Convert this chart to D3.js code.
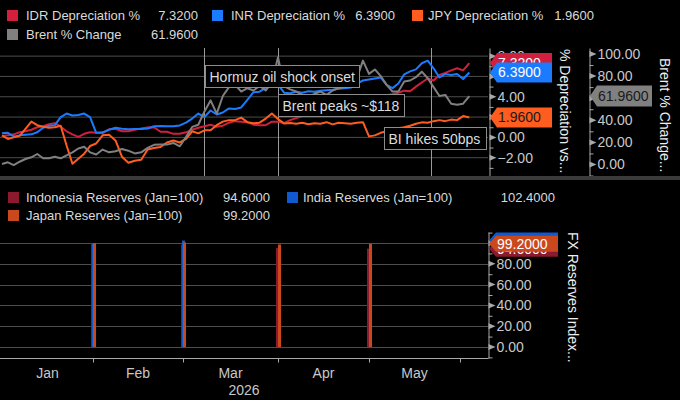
<!DOCTYPE html>
<html>
<head>
<meta charset="utf-8">
<script src="https://cdnjs.cloudflare.com/ajax/libs/d3/7.8.5/d3.min.js"></script>
<style>
  html, body { margin: 0; padding: 0; background: #000; }
  svg { display: block; font-family: "Liberation Sans", Arial, sans-serif; }
</style>
</head>
<body>
<div id="chart"></div>
<script>
// ---- data ----
const startDate = new Date(2026, 0, 1);
const dates = d3.range(78).map(i => d3.timeDay.offset(startDate, i * 2));

const idrDep = [0.15, 0.2, 0.3, 0.5, 0.6, 0.75, 1.0, 1.1, 1.3, 1.4, 1.05, 0.6, 0.3, 0.05, 0.35, 0.5,
  0.45, 0.42, 0.8, 0.85, 0.6, 0.6, 0.75, 0.88, 0.98, 1.0, 0.55, 0.55, 0.35, 0.35, 0.5, 0.75,
  0.95, 1.1, 1.25, 1.05, 1.15, 1.45, 1.6, 1.55, 1.5, 1.25, 1.2, 1.2, 1.55, 1.55, 1.4, 1.7,
  1.9, 2.1, 2.3, 2.5, 2.7, 2.9, 3.0, 3.2, 3.35, 3.5, 3.6, 3.7, 3.85, 3.95, 4.05, 4.15,
  4.25, 4.4, 4.6, 4.55, 5.0, 5.4, 5.8, 5.6, 6.15, 6.35, 6.6, 6.8, 6.6, 7.32];
const inrDep = [0.4, 0.45, 0.1, 0.2, 0.25, 0.3, 0.5, 0.95, 1.15, 1.2, 2.0, 2.35, 2.15, 2.2, 2.35, 2.0,
  0.45, 0.5, 0.75, 0.95, 0.85, 0.8, 0.82, 0.83, 0.88, 1.1, 1.12, 1.1, 1.1, 1.18, 1.45, 1.85,
  2.35, 2.0, 2.65, 2.25, 2.45, 2.85, 2.8, 2.95, 3.7, 4.45, 4.5, 4.9, 5.4, 5.2, 4.4, 4.35,
  4.5, 4.4, 4.55, 4.5, 4.6, 4.65, 4.7, 4.8, 4.84, 4.9, 5.3, 5.6, 5.7, 5.8, 5.9, 5.16,
  4.85, 5.3, 6.2, 6.5, 6.7, 7.3, 7.55, 6.8, 5.9, 6.25, 6.15, 6.25, 5.75, 6.39];
const jpyDep = [0.2, -0.15, 0.0, 0.15, 0.85, 1.55, 1.2, 1.05, 0.95, 1.0, 1.15, -0.8, -2.6, -2.1, -1.6, -0.85,
  -0.6, 0.2, 0.25, -0.3, -1.9, -2.5, -2.3, -2.2, -1.2, -1.05, -0.95, -0.5, -0.3, -0.5, -0.15, 0.6,
  0.4, 0.7, 0.7, 1.2, 1.55, 1.7, 1.7, 1.95, 1.5, 1.4, 1.45, 1.85, 2.35, 1.8, 1.38, 1.42,
  1.35, 1.45, 1.3, 1.4, 1.35, 1.5, 1.28, 1.45, 1.4, 1.35, 1.45, 1.5, 0.1, 0.2, 0.45, 0.6,
  0.75, 0.9, 1.0, 1.15, 1.35, 1.48, 1.45, 1.6, 1.7, 1.6, 1.75, 1.7, 2.1, 1.96];
const brentChg = [0.5, 2, -0.5, 2.5, 5, 6.5, 9.5, 5.6, 5.6, 7, 5.6, 8.3, 11, 14.5, 16, 11,
  9, 13.5, 11, 12, 14, 12.5, 10, 11, 15, 17.8, 18.2, 18, 19.5, 16.5, 25, 34,
  36, 48, 58, 46, 62, 70, 72, 66, 69, 67, 71, 67, 74, 97, 71, 68,
  66, 63, 61, 64, 66, 63, 67, 69, 70, 74, 78, 94, 82, 86, 80, 72,
  66, 66, 75, 76, 79, 84, 78, 70, 62, 63, 55, 54, 55, 61.96];

const seriesNames = ["IDR Depreciation %", "INR Depreciation %", "JPY Depreciation %", "Brent % Change"];
const seriesColors = ["#d11f3d", "#1a7bff", "#ff5c1f", "#808080"];

const reserveDates = [new Date(2026, 0, 31), new Date(2026, 1, 28), new Date(2026, 2, 31), new Date(2026, 3, 30)];
const reserveNames = ["Indonesia Reserves (Jan=100)", "India Reserves (Jan=100)", "Japan Reserves (Jan=100)"];
const indonesiaRes = [100, 98.5, 95.1, 94.6];
const indiaRes = [100, 102.4, null, null];
const japanRes = [100, 100.6, 98.6, 99.2];
const reserveColors = ["#8c1a2e", "#1059cf", "#c9481d"];

const events = [
  { date: new Date(2026, 2, 8), label: "Hormuz oil shock onset" },
  { date: new Date(2026, 3, 1), label: "Brent peaks ~$118" },
  { date: new Date(2026, 4, 22), label: "BI hikes 50bps" }
];

const monthStarts = [0, 1, 2, 3, 4, 5].map(m => new Date(2026, m, 1));
const monthLabels = ["Jan", "Feb", "Mar", "Apr", "May"];
const depTicks = [-2, 0, 2, 4, 6, 8];
const brentTicks = [0, 20, 40, 60, 80, 100];
const resTicks = [0, 20, 40, 60, 80, 100];

// ---- layout ----
const W = 680, H = 400;
const svg = d3.select("#chart").append("svg").attr("width", W).attr("height", H);
svg.append("rect").attr("width", W).attr("height", H).attr("fill", "#000");

const x = d3.scaleTime()
  .domain([...monthStarts, new Date(2026, 5, 10)])
  .range([2, 93, 183, 278, 369, 460, 488]);

const yDep = d3.scaleLinear().domain([-3.8, 8.8]).range([176, 48]);
const yBrent = d3.scaleLinear().domain([-10.4, 105.4]).range([176, 48]);
const yRes = d3.scaleLinear().domain([-10.6, 110.6]).range([358, 232]);

const fmt2 = d3.format(".2f"), fmt4 = d3.format(".4f");
const last = arr => arr.filter(v => v != null).slice(-1)[0];

// ---- top legend ----
function legendItem(g, sx, tx, y, color, name, value, valRight) {
  g.append("rect").attr("x", sx).attr("y", y - 10).attr("width", 11).attr("height", 11).attr("fill", color);
  g.append("text").attr("x", tx).attr("y", y).attr("fill", "#dadada").attr("font-size", 13).text(name);
  g.append("text").attr("x", valRight).attr("y", y).attr("text-anchor", "end")
    .attr("fill", "#dadada").attr("font-size", 13).text(value);
}
const leg = svg.append("g");
legendItem(leg, 7, 26, 20, seriesColors[0], seriesNames[0], fmt4(last(idrDep)), 198);
legendItem(leg, 212, 231, 20, seriesColors[1], seriesNames[1], fmt4(last(inrDep)), 395);
legendItem(leg, 412, 428, 20, seriesColors[2], seriesNames[2], fmt4(last(jpyDep)), 594);
legendItem(leg, 7, 26, 39, seriesColors[3], seriesNames[3], fmt4(last(brentChg)), 198);

// ---- top panel ----
const topG = svg.append("g");
topG.selectAll("line.grid").data(depTicks).enter().append("line")
  .attr("x1", 0).attr("x2", 488).attr("y1", d => yDep(d)).attr("y2", d => yDep(d))
  .attr("stroke", "#4d4d4d").attr("stroke-width", 1);

topG.selectAll("line.event").data(events).enter().append("line")
  .attr("x1", d => Math.round(x(d.date)) + 0.5).attr("x2", d => Math.round(x(d.date)) + 0.5)
  .attr("y1", 48).attr("y2", 176).attr("stroke", "#9a9a9a").attr("stroke-width", 1);

const lineDep = d3.line().x((d, i) => x(dates[i])).y(d => yDep(d));
const lineBrent = d3.line().x((d, i) => x(dates[i])).y(d => yBrent(d));
[idrDep, inrDep, jpyDep].forEach((s, k) => {
  topG.append("path").datum(s).attr("d", lineDep).attr("fill", "none")
    .attr("stroke", seriesColors[k]).attr("stroke-width", 2).attr("stroke-linejoin", "round");
});
topG.append("path").datum(brentChg).attr("d", lineBrent).attr("fill", "none")
  .attr("stroke", seriesColors[3]).attr("stroke-width", 2).attr("stroke-linejoin", "round");

// annotation boxes
const boxPos = [{ dx: 1, y: 65, w: 154 }, { dx: 0, y: 94, w: 126 }, { dx: -47, y: 127, w: 102 }];
events.forEach((e, i) => {
  const bx = Math.round(x(e.date)) + boxPos[i].dx + 0.5;
  topG.append("rect").attr("x", bx).attr("y", boxPos[i].y + 0.5).attr("width", boxPos[i].w).attr("height", 22)
    .attr("fill", "#000").attr("stroke", "#8c8c8c").attr("stroke-width", 1);
  topG.append("text").attr("x", bx + 4).attr("y", boxPos[i].y + 16.5).attr("fill", "#dcdcdc")
    .attr("font-size", 14).text(e.label);
});

// axes
function styleAxis(g) {
  g.select(".domain").attr("stroke", "#a8a8a8");
  g.selectAll("text").attr("fill", "#c8c8c8").attr("font-size", 14).attr("font-family", "Liberation Sans, Arial, sans-serif");
}
function markers(g, scale, majors, minors, ax) {
  g.selectAll(null).data(majors).enter().append("path")
    .attr("d", d => `M${ax},${scale(d) - 3}L${ax + 7},${scale(d)}L${ax},${scale(d) + 3}Z`).attr("fill", "#a8a8a8");
  g.selectAll(null).data(minors).enter().append("line")
    .attr("x1", ax).attr("x2", ax + 4).attr("y1", d => scale(d) + 0.5).attr("y2", d => scale(d) + 0.5)
    .attr("stroke", "#a8a8a8");
}
const axDep = svg.append("g").attr("transform", "translate(489.5,0)")
  .call(d3.axisRight(yDep).tickValues(depTicks).tickFormat(fmt2).tickSize(0).tickSizeOuter(0).tickPadding(8));
styleAxis(axDep);
markers(svg, yDep, depTicks, [-3, -1, 1, 3, 5, 7], 489.5);

const axBrent = svg.append("g").attr("transform", "translate(589.5,0)")
  .call(d3.axisRight(yBrent).tickValues(brentTicks).tickFormat(fmt2).tickSize(0).tickSizeOuter(0).tickPadding(8));
styleAxis(axBrent);
markers(svg, yBrent, brentTicks, [-10, 10, 30, 50, 70, 90], 589.5);

function axisTitle(tx, ty, label) {
  svg.append("text").attr("transform", `translate(${tx},${ty}) rotate(90)`).attr("fill", "#eeeeee")
    .attr("font-size", 14).text(label);
}
axisTitle(560, 49, "% Depreciation vs...");
axisTitle(660, 58, "Brent % Change...");

// value tags
function tag(tx, ty, w, h, fill, text, color) {
  svg.append("path")
    .attr("d", `M${tx},${ty}L${tx + 7},${ty - h / 2}L${tx + w},${ty - h / 2}L${tx + w},${ty + h / 2}L${tx + 7},${ty + h / 2}Z`)
    .attr("fill", fill);
  svg.append("text").attr("x", tx + 8).attr("y", ty + 5).attr("fill", color).attr("font-size", 14).text(text);
}
tag(490, yDep(last(idrDep)), 62, 20, seriesColors[0], fmt4(last(idrDep)), "#fff");
tag(490, yDep(last(inrDep)), 62, 20, seriesColors[1], fmt4(last(inrDep)), "#fff");
tag(490, yDep(last(jpyDep)), 62, 20, seriesColors[2], fmt4(last(jpyDep)), "#1a1a1a");
tag(590, yBrent(last(brentChg)), 62, 21, seriesColors[3], fmt4(last(brentChg)), "#1a1a1a");

// separator
svg.append("rect").attr("x", 0).attr("y", 176).attr("width", W).attr("height", 4).attr("fill", "#3a3a3a");

// ---- bottom legend ----
const leg2 = svg.append("g");
const resSeries = [indonesiaRes, indiaRes, japanRes];
legendItem(leg2, 8, 26, 202, reserveColors[0], reserveNames[0], fmt4(last(indonesiaRes)), 270);
legendItem(leg2, 287, 303, 202, reserveColors[1], reserveNames[1], fmt4(last(indiaRes)), 555);
legendItem(leg2, 8, 26, 220, reserveColors[2], reserveNames[2], fmt4(last(japanRes)), 270);

// ---- bottom panel ----
const bot = svg.append("g");
bot.selectAll(null).data(resTicks).enter().append("line")
  .attr("x1", 0).attr("x2", 488).attr("y1", d => Math.round(yRes(d)) + 0.5).attr("y2", d => Math.round(yRes(d)) + 0.5)
  .attr("stroke", "#4d4d4d");

const sub = d3.scaleBand().domain(reserveNames).range([0, 3]);
const barData = [];
reserveDates.forEach((dt, j) => {
  resSeries.forEach((s, k) => {
    if (s[j] != null) barData.push({ date: dt, name: reserveNames[k], value: s[j], color: reserveColors[k] });
  });
});
bot.selectAll("rect.bar").data(barData).enter().append("rect")
  .attr("x", d => Math.round(x(d.date)) + 1 + sub(d.name))
  .attr("y", d => yRes(d.value))
  .attr("width", 3)
  .attr("height", d => yRes(0) - yRes(d.value))
  .attr("fill", d => d.color);

const axRes = svg.append("g").attr("transform", "translate(488.5,0)")
  .call(d3.axisRight(yRes).tickValues(resTicks).tickFormat(fmt2).tickSize(0).tickSizeOuter(0).tickPadding(8));
styleAxis(axRes);
markers(svg, yRes, resTicks, [-10, 10, 30, 50, 70, 90, 110], 488.5);

const axX = svg.append("g").attr("transform", "translate(0,358.5)")
  .call(d3.axisBottom(x).tickValues(monthStarts.slice(1)).tickSize(4).tickSizeOuter(0).tickFormat(""));
axX.select(".domain").attr("stroke", "#a8a8a8").attr("d", "M0,0H488.5");
axX.selectAll(".tick line").attr("stroke", "#a8a8a8");

svg.selectAll("text.month").data(monthLabels).enter().append("text")
  .attr("x", (d, i) => (x(monthStarts[i]) + x(monthStarts[i + 1])) / 2)
  .attr("y", 378).attr("text-anchor", "middle").attr("fill", "#c8c8c8").attr("font-size", 14).text(d => d);
svg.append("text").attr("x", 244).attr("y", 395).attr("text-anchor", "middle").attr("fill", "#c8c8c8")
  .attr("font-size", 14).text("2026");

axisTitle(568, 232, "FX Reserves Index...");

tag(489, yRes(last(indiaRes)), 69, 16, reserveColors[1], fmt4(last(indiaRes)), "#fff");
tag(489, yRes(last(indonesiaRes)), 69, 16, reserveColors[0], fmt4(last(indonesiaRes)), "#fff");
tag(489, yRes(last(japanRes)), 69, 16, reserveColors[2], fmt4(last(japanRes)), "#fff");
</script>
</body>
</html>
